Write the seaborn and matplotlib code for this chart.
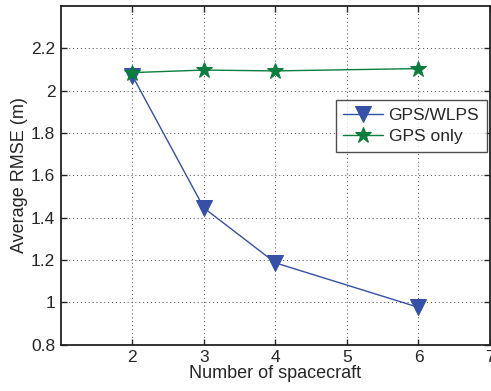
import numpy as np
import pandas as pd
import matplotlib
matplotlib.use("Agg")
import matplotlib.pyplot as plt
import seaborn as sns

# data
spacecraft = [2, 3, 4, 6]
rmse_gps_wlps = [2.07, 1.446, 1.187, 0.977]
rmse_gps_only = [2.085, 2.097, 2.093, 2.104]

BLUE = '#3550a6'
GREEN = '#0b7d3c'

sns.set_theme(style="ticks")
plt.rcParams['font.family'] = ['Liberation Sans', 'DejaVu Sans']

fig = plt.figure(figsize=(4.91, 3.91), dpi=100)
ax = fig.add_axes([0.124, 0.118, 0.874, 0.867])

sns.lineplot(x=spacecraft, y=rmse_gps_wlps, ax=ax, color=BLUE, linewidth=1.0,
             marker='v', markersize=11, markeredgecolor=BLUE, label='GPS/WLPS')
sns.lineplot(x=spacecraft, y=rmse_gps_only, ax=ax, color=GREEN, linewidth=1.0,
             marker='*', markersize=12, markeredgecolor=GREEN, label='GPS only')

ax.set_xlim(1, 7)
ax.set_ylim(0.8, 2.4)
ax.set_xticks([2, 3, 4, 5, 6, 7])
ax.set_yticks([0.8, 1.0, 1.2, 1.4, 1.6, 1.8, 2.0, 2.2])
ax.set_yticklabels(['0.8', '1', '1.2', '1.4', '1.6', '1.8', '2', '2.2'])
ax.grid(True, linestyle=(0, (1, 3)), color='#444444', linewidth=0.7)
ax.tick_params(direction='in', top=True, right=True, labelsize=12.5, length=4, width=1, pad=4)
for s in ax.spines.values():
    s.set_linewidth(1.3)
    s.set_color('#222222')

ax.set_xlabel('Number of spacecraft', fontsize=13, labelpad=0)
ax.set_ylabel('Average RMSE (m)', fontsize=13, labelpad=2)

leg = ax.legend(loc='upper right', bbox_to_anchor=(0.993, 0.723), fontsize=12.5,
                frameon=True, fancybox=False, borderaxespad=0, handlelength=2.3,
                borderpad=0.45, labelspacing=0.35, handletextpad=0.3)
leg.get_frame().set_edgecolor('#222222')
leg.get_frame().set_linewidth(1.0)

fig.savefig('out.png', dpi=100)
